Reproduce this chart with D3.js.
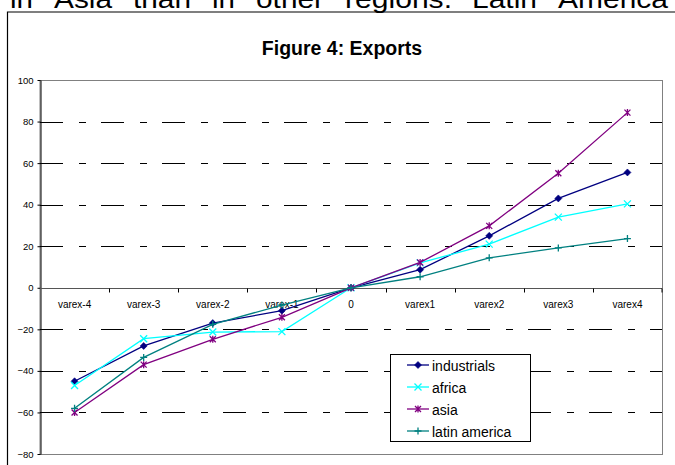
<!DOCTYPE html>
<html>
<head>
<meta charset="utf-8">
<script src="https://cdn.jsdelivr.net/npm/d3@7/dist/d3.min.js"></script>
<style>
  html, body { margin: 0; padding: 0; background: #fff; }
  svg { display: block; font-family: Arial, "Liberation Sans", sans-serif; }
</style>
</head>
<body>
<svg id="chart" width="675" height="465"></svg>
<script>
// Export responses by region across the varex scenarios
const categories = ["varex-4", "varex-3", "varex-2", "varex-1", "0", "varex1", "varex2", "varex3", "varex4"];
const industrials = [-45, -28, -17, -11, 0, 8.7, 25, 43, 55.5];
const africa      = [-47, -24.5, -21.3, -21.1, 0, 12, 21, 34, 40.4];
const asia        = [-60, -37, -24.8, -14.2, 0, 12.2, 29.8, 55.1, 84.3];
const latinAmerica = [-58, -33.5, -17.6, -8.3, 0, 5.3, 14.4, 19.2, 23.7];
const yTicks = [-80, -60, -40, -20, 0, 20, 40, 60, 80, 100];
const seriesNames = ["industrials", "africa", "asia", "latin america"];

// running body text above the figure frame (justified line)
const bodyWords = ["in", "Asia", "than", "in", "other", "regions.", "Latin", "America"];
const bodyWordX = [10, 54, 133, 212, 256, 345, 472, 558];
const bodyWordW = [23, 58, 58, 23, 68, 107, 65, 110];

const series = [
  { name: seriesNames[0], values: industrials,  color: "#000080", marker: "diamond" },
  { name: seriesNames[1], values: africa,       color: "#00FFFF", marker: "cross" },
  { name: seriesNames[2], values: asia,         color: "#800080", marker: "star" },
  { name: seriesNames[3], values: latinAmerica, color: "#008080", marker: "plus" }
];

const svg = d3.select("#chart");
const plot = { left: 40, right: 662, top: 80, bottom: 454 };

const x = d3.scaleBand().domain(categories).range([plot.left, plot.right]).padding(0);
const cx = c => x(c) + x.bandwidth() / 2;
const y = d3.scaleLinear().domain([-80, 100]).range([plot.bottom, plot.top]);

// body text line
svg.append("g").selectAll("text").data(bodyWords).join("text")
  .attr("x", (d, i) => bodyWordX[i])
  .attr("y", 8)
  .attr("font-size", 26)
  .attr("textLength", (d, i) => bodyWordW[i])
  .attr("lengthAdjust", "spacingAndGlyphs")
  .attr("fill", "#000")
  .text(d => d);

// figure frame
svg.append("path")
  .attr("d", "M7.5,470 V12 H680")
  .attr("fill", "none").attr("stroke", "#000").attr("stroke-width", 1.2);

// title
svg.append("text")
  .attr("x", 342).attr("y", 55)
  .attr("text-anchor", "middle")
  .attr("font-size", 19.5).attr("font-weight", "bold")
  .text("Figure 4: Exports");

// plot area border
svg.append("rect")
  .attr("x", plot.left).attr("y", plot.top + 0.5)
  .attr("width", plot.right - plot.left + 0.5).attr("height", plot.bottom - plot.top)
  .attr("fill", "#fff").attr("stroke", "#808080").attr("stroke-width", 1);

// dashed gridlines
svg.append("g").selectAll("line")
  .data(yTicks.filter(v => v !== 0 && v !== -80 && v !== 100))
  .join("line")
  .attr("x1", plot.left).attr("x2", plot.right)
  .attr("y1", d => Math.round(y(d)) + 0.5).attr("y2", d => Math.round(y(d)) + 0.5)
  .attr("stroke", "#000").attr("stroke-width", 1)
  .attr("stroke-dasharray", "23,16,7,15");

// y axis
const yAxis = svg.append("g")
  .attr("transform", `translate(${plot.left + 0.5},0)`)
  .call(d3.axisLeft(y).tickValues(yTicks).tickSize(3).tickPadding(4).tickSizeOuter(0));
yAxis.select(".domain").attr("stroke", "#000");
yAxis.selectAll(".tick line").attr("stroke", "#000");
yAxis.selectAll(".tick text").attr("font-size", 9.5).attr("font-family", "Arial, 'Liberation Sans', sans-serif").attr("fill", "#000");

// zero axis with ticks at category boundaries
const y0 = Math.round(y(0)) + 0.5;
svg.append("line")
  .attr("x1", plot.left).attr("x2", plot.right)
  .attr("y1", y0).attr("y2", y0)
  .attr("stroke", "#555").attr("stroke-width", 1.2);
svg.append("g").selectAll("line")
  .data(categories.slice(1).concat(["end"]))
  .join("line")
  .attr("x1", d => d === "end" ? plot.right : Math.round(x(d)) + 0.5)
  .attr("x2", d => d === "end" ? plot.right : Math.round(x(d)) + 0.5)
  .attr("y1", y0).attr("y2", y0 + 4)
  .attr("stroke", "#000");

// category labels
svg.append("g").selectAll("text").data(categories).join("text")
  .attr("x", d => cx(d)).attr("y", y(0) + 20)
  .attr("text-anchor", "middle")
  .attr("font-size", 10)
  .attr("fill", "#000")
  .text(d => d);

// marker drawing
function drawMarker(g, type, color) {
  if (type === "diamond") {
    g.append("path").attr("d", "M0,-3.5 L3.5,0 L0,3.5 L-3.5,0 Z").attr("fill", color).attr("stroke", color).attr("stroke-width", 0.6);
  } else if (type === "cross") {
    g.append("path").attr("d", "M-3.5,-3.5 L3.5,3.5 M-3.5,3.5 L3.5,-3.5").attr("stroke", color).attr("stroke-width", 1.3).attr("fill", "none");
  } else if (type === "star") {
    g.append("path").attr("d", "M-3,-3 L3,3 M-3,3 L3,-3 M0,-3.5 L0,3.5").attr("stroke", color).attr("stroke-width", 1.3).attr("fill", "none");
  } else if (type === "plus") {
    g.append("path").attr("d", "M-3.5,0 L3.5,0 M0,-3.5 L0,3.5").attr("stroke", color).attr("stroke-width", 1.3).attr("fill", "none");
  }
}

const line = d3.line().x((d, i) => cx(categories[i])).y(d => y(d));

series.forEach(s => {
  svg.append("path")
    .datum(s.values)
    .attr("d", line)
    .attr("fill", "none")
    .attr("stroke", s.color)
    .attr("stroke-width", 1.3);
  s.values.forEach((v, i) => {
    const g = svg.append("g").attr("transform", `translate(${cx(categories[i])},${y(v)})`);
    drawMarker(g, s.marker, s.color);
  });
});

// legend
const legend = svg.append("g");
legend.append("rect")
  .attr("x", 390.5).attr("y", 354.5).attr("width", 140).attr("height", 87)
  .attr("fill", "#fff").attr("stroke", "#000").attr("stroke-width", 1);
series.forEach((s, i) => {
  const ly = 365 + i * 22;
  legend.append("line")
    .attr("x1", 407).attr("x2", 429).attr("y1", ly).attr("y2", ly)
    .attr("stroke", s.color).attr("stroke-width", 1.3);
  drawMarker(legend.append("g").attr("transform", `translate(418,${ly})`), s.marker, s.color);
  legend.append("text")
    .attr("x", 432).attr("y", ly + 6)
    .attr("font-size", 14)
    .attr("fill", "#000")
    .text(s.name);
});
</script>
</body>
</html>
